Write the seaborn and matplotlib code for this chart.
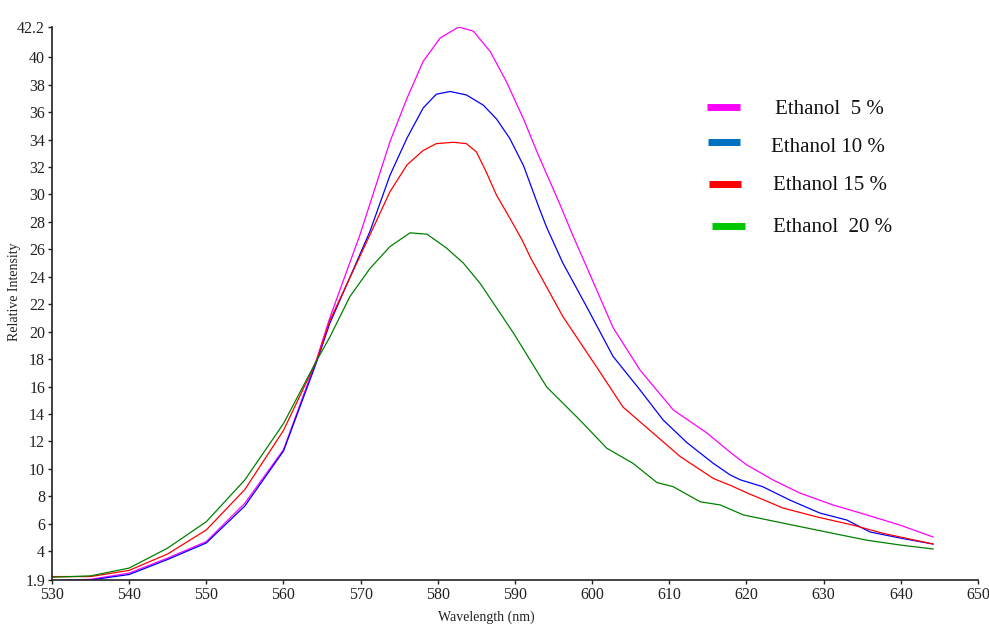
import numpy as np
import pandas as pd
import matplotlib
matplotlib.use("Agg")
import matplotlib.pyplot as plt
from matplotlib.lines import Line2D
import seaborn as sns

# ---- data ----
x_5 = [530, 535, 540, 545, 550, 555, 560, 564.3, 566, 569.9, 571.6, 573.8, 576.0, 578.1, 580.3,
       582.7, 584.6, 586.8, 588.9, 591.1, 593.0, 595.8, 597.5, 599.3, 602.7, 606.2, 610.5,
       614.9, 617.9, 620, 623.4, 626.9, 631.2, 635.6, 639.9, 644.2]
y_5 = [1.85, 1.95, 2.4, 3.5, 4.7, 7.5, 11.4, 18.0, 21.0, 27.05, 30.0, 33.85, 37.0, 39.7, 41.4,
       42.2, 41.9, 40.4, 38.2, 35.5, 32.9, 29.3, 27.0, 24.7, 20.3, 17.2, 14.3,
       12.6, 11.2, 10.3, 9.2, 8.24, 7.37, 6.64, 5.9, 5.03]

x_10 = [530, 535, 540, 545, 550, 555, 560, 564.3, 566, 571.2, 573.8, 576.0, 578.1, 579.8, 581.6,
        583.7, 585.9, 587.6, 589.3, 591.1, 593.0, 594.1, 596.2, 599.3, 602.7, 606.2, 609.2,
        612.3, 615.7, 617.9, 619.2, 622.1, 625.6, 629.5, 633.0, 636.0, 639.9, 644.2]
y_10 = [1.85, 1.9, 2.3, 3.4, 4.6, 7.3, 11.3, 17.8, 20.6, 27.3, 31.4, 34.1, 36.3, 37.3, 37.5,
        37.25, 36.5, 35.5, 34.1, 32.1, 29.2, 27.6, 25.0, 21.8, 18.2, 15.75, 13.56,
        11.9, 10.4, 9.55, 9.2, 8.7, 7.73, 6.78, 6.27, 5.4, 4.96, 4.52]

x_15 = [530, 535, 540, 545, 550, 555, 560, 564.3, 566, 571.2, 573.8, 576.0, 578.1, 579.8, 582.0,
        583.7, 585.0, 586.3, 587.6, 589.3, 590.9, 592.0, 596.2, 600.6, 604.0, 607.9, 611.4,
        615.7, 617.9, 620.1, 624.7, 629.1, 633.8, 637.7, 644.2]
y_15 = [2.15, 2.15, 2.6, 3.8, 5.55, 8.5, 12.8, 17.9, 20.8, 27.05, 30.2, 32.15, 33.2, 33.7, 33.8,
        33.7, 33.1, 31.6, 29.95, 28.3, 26.7, 25.4, 21.1, 17.4, 14.5, 12.6, 10.9,
        9.3, 8.8, 8.24, 7.15, 6.5, 5.9, 5.3, 4.52]

x_20 = [530, 535, 540, 545, 550, 555, 560, 564.3, 566.0, 568.6, 571.2, 573.8, 576.4, 578.6, 581.1,
        583.3, 585.5, 589.8, 594.1, 598.4, 601.9, 605.3, 608.4, 610.5, 614.0, 616.6, 619.6,
        624.7, 631.2, 635.6, 639.9, 644.2]
y_20 = [2.1, 2.2, 2.77, 4.23, 6.15, 9.2, 13.3, 17.9, 19.6, 22.55, 24.6, 26.2, 27.2, 27.1, 26.1,
        25.0, 23.5, 19.9, 15.97, 13.56, 11.5, 10.4, 9.0, 8.7, 7.6, 7.37, 6.64,
        6.05, 5.3, 4.8, 4.45, 4.16]

series_names = ["Ethanol  5 %", "Ethanol 10 %", "Ethanol 15 %", "Ethanol  20 %"]
line_colors = ["#FF00FF", "#0000FF", "#FF0000", "#008000"]
legend_colors = ["#FF00FF", "#0070C0", "#FF0000", "#00C800"]

y_ticks = [1.9, 4, 6, 8, 10, 12, 14, 16, 18, 20, 22, 24, 26, 28, 30, 32, 34, 36, 38, 40, 42.2]
y_ticklabels = ["1.9"] + [str(v) for v in range(4, 41, 2)] + ["42.2"]
x_ticks = list(range(530, 651, 10))

frames = []
for name, xs, ys in zip(series_names, [x_5, x_10, x_15, x_20], [y_5, y_10, y_15, y_20]):
    frames.append(pd.DataFrame({"Wavelength": xs, "Intensity": ys, "series": name}))
df = pd.concat(frames, ignore_index=True)

sns.set_theme(style="white")
plt.rcParams["font.family"] = ["Liberation Serif", "DejaVu Serif"]

fig = plt.figure(figsize=(9.89, 6.25), dpi=100)
ax = fig.add_axes([52 / 989, 1 - 580 / 625, (978 - 52) / 989, (580 - 27) / 625])

sns.lineplot(data=df, x="Wavelength", y="Intensity", hue="series",
             palette=dict(zip(series_names, line_colors)), estimator=None,
             linewidth=0.9, legend=False, ax=ax)

ax.set_xlim(530, 650)
ax.set_ylim(1.9, 42.2)
ax.set_xticks(x_ticks)
ax.set_xticklabels([str(v) for v in x_ticks], fontsize=11.5, color="#222222")
ax.set_yticks(y_ticks)
ax.set_yticklabels(y_ticklabels, fontsize=11.5, color="#222222")
ax.tick_params(axis="both", direction="out", length=3, width=1, color="#222222", pad=2,
               bottom=True, left=True)
for s in ["top", "right"]:
    ax.spines[s].set_visible(False)
for s in ["left", "bottom"]:
    ax.spines[s].set_color("#222222")
    ax.spines[s].set_linewidth(1.2)
ax.set_xlabel("")
ax.set_ylabel("")
ax.grid(False)

fig.text(486 / 989, 1 - 617 / 625, "Wavelength (nm)", ha="center", va="center",
         fontsize=10, color="#222222")
fig.text(15 / 989, 1 - 292 / 625, "Relative Intensity", ha="center", va="center",
         rotation=90, fontsize=10, color="#222222")

# legend drawn manually to match irregular placement
leg_items = [
    (707, 740, 107, 775, 109),
    (708, 740, 142, 771, 148),
    (709, 741, 184, 773, 186),
    (712, 745, 226, 773, 227),
]
for (x0, x1, yl, xt, yt), name, col in zip(leg_items, series_names, legend_colors):
    fig.add_artist(Line2D([x0 / 989, x1 / 989], [1 - yl / 625, 1 - yl / 625],
                          transform=fig.transFigure, color=col, linewidth=5,
                          solid_capstyle="butt"))
    fig.text(xt / 989, 1 - yt / 625, name, ha="left", va="center", fontsize=15,
             color="#111111")

fig.savefig("out.png", dpi=100)
